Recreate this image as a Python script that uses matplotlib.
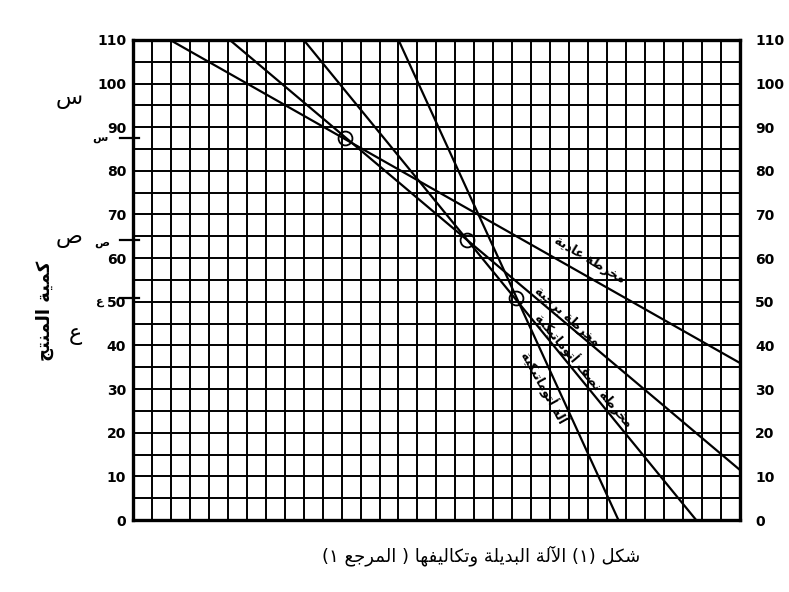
import numpy as np
import matplotlib.pyplot as plt

# machine cost lines (x = grid columns, y = quantity)
ordinary_x = [1.95, 32.0]
ordinary_y = [110, 36]
turret_x = [5.1, 32.0]
turret_y = [110, 11.5]
semi_x = [9.0, 29.7]
semi_y = [110, 0]
auto_x = [14.0, 25.6]
auto_y = [110, 0]

# break-even points (circles) and their marks on the axis
break_x = [11.2, 17.6, 20.2]
break_y = [87.5, 64.2, 50.8]

y_ticks = list(range(0, 111, 10))
n_cols = 32

# --- minimal arabic shaping (matplotlib has no complex text layout) ---
FORMS = {
    'ا': ('\uFE8D', '\uFE8E', None, None), 'آ': ('\uFE81', '\uFE82', None, None),
    'أ': ('\uFE83', '\uFE84', None, None), 'ب': ('\uFE8F', '\uFE90', '\uFE91', '\uFE92'),
    'ة': ('\uFE93', '\uFE94', None, None), 'ت': ('\uFE95', '\uFE96', '\uFE97', '\uFE98'),
    'ج': ('\uFE9D', '\uFE9E', '\uFE9F', '\uFEA0'), 'خ': ('\uFEA5', '\uFEA6', '\uFEA7', '\uFEA8'),
    'د': ('\uFEA9', '\uFEAA', None, None), 'ر': ('\uFEAD', '\uFEAE', None, None),
    'س': ('\uFEB1', '\uFEB2', '\uFEB3', '\uFEB4'), 'ش': ('\uFEB5', '\uFEB6', '\uFEB7', '\uFEB8'),
    'ص': ('\uFEB9', '\uFEBA', '\uFEBB', '\uFEBC'), 'ط': ('\uFEC1', '\uFEC2', '\uFEC3', '\uFEC4'),
    'ع': ('\uFEC9', '\uFECA', '\uFECB', '\uFECC'), 'ف': ('\uFED1', '\uFED2', '\uFED3', '\uFED4'),
    'ك': ('\uFED9', '\uFEDA', '\uFEDB', '\uFEDC'), 'ل': ('\uFEDD', '\uFEDE', '\uFEDF', '\uFEE0'),
    'م': ('\uFEE1', '\uFEE2', '\uFEE3', '\uFEE4'), 'ن': ('\uFEE5', '\uFEE6', '\uFEE7', '\uFEE8'),
    'ه': ('\uFEE9', '\uFEEA', '\uFEEB', '\uFEEC'), 'و': ('\uFEED', '\uFEEE', None, None),
    'ي': ('\uFEF1', '\uFEF2', '\uFEF3', '\uFEF4'),
}
LAMALEF = {'آ': ('\uFEF5', '\uFEF6'), 'أ': ('\uFEF7', '\uFEF8'), 'ا': ('\uFEFB', '\uFEFC')}


def ar(s):
    items = []
    i = 0
    while i < len(s):
        if s[i] == 'ل' and i + 1 < len(s) and s[i + 1] in LAMALEF:
            items.append(('LA', s[i + 1]))
            i += 2
        else:
            items.append(s[i])
            i += 1

    def dual(it):
        return isinstance(it, str) and it in FORMS and FORMS[it][2] is not None

    def letter(it):
        return isinstance(it, tuple) or it in FORMS

    out = []
    for k, it in enumerate(items):
        jp = k > 0 and dual(items[k - 1]) and letter(it)
        jn = k + 1 < len(items) and dual(it) and letter(items[k + 1])
        if isinstance(it, tuple):
            out.append(LAMALEF[it[1]][1 if jp else 0])
        elif it in FORMS:
            f = FORMS[it]
            if jp and jn:
                out.append(f[3])
            elif jp:
                out.append(f[1])
            elif jn:
                out.append(f[2])
            else:
                out.append(f[0])
        else:
            out.append(it)
    txt = ''.join(out[::-1])
    return txt.translate(str.maketrans('()', ')('))


plt.rcParams['font.family'] = ['DejaVu Sans']

fig = plt.figure(figsize=(7.89, 5.92), dpi=100)
ax = fig.add_axes([0.1686, 0.1216, 0.769, 0.811])
ax.set_xlim(0, n_cols)
ax.set_ylim(0, 110)

ax.set_xticks(range(n_cols + 1))
ax.set_xticklabels([])
ax.set_yticks(y_ticks)
ax.set_yticks(range(5, 110, 10), minor=True)
ax.grid(which='both', color='black', lw=1.4)
ax.tick_params(axis='both', which='both', length=0)
ax.tick_params(axis='y', pad=5, labelsize=10)
for lab in ax.get_yticklabels():
    lab.set_fontweight('bold')
for sp in ax.spines.values():
    sp.set_linewidth(2.4)

ax2 = ax.twinx()
ax2.set_ylim(0, 110)
ax2.set_yticks(y_ticks)
ax2.tick_params(axis='y', length=0, pad=11, labelsize=10)
for lab in ax2.get_yticklabels():
    lab.set_fontweight('bold')

ax.plot(ordinary_x, ordinary_y, color='black', lw=1.6)
ax.plot(turret_x, turret_y, color='black', lw=1.6)
ax.plot(semi_x, semi_y, color='black', lw=1.6)
ax.plot(auto_x, auto_y, color='black', lw=1.6)
ax.plot(break_x, break_y, 'o', ms=10, mfc='none', mec='black', mew=1.3)
for by in break_y:
    ax.plot([-0.7, 0.3], [by, by], color='black', lw=1.6, clip_on=False)

# line names along the lines
ax.text(24.1, 59.5, ar('مخرطة عادية'), rotation=-31, fontsize=9, fontweight='bold',
        ha='center', va='center')
ax.text(22.9, 46.5, ar('مخرطة برجية'), rotation=-42, fontsize=9, fontweight='bold',
        ha='center', va='center')
ax.text(23.8, 34.5, ar('مخرطة نصف أتوماتيكية'), rotation=-50, fontsize=9, fontweight='bold',
        ha='center', va='center')
ax.text(21.7, 30.5, ar('آلة أتوماتيكية'), rotation=-61, fontsize=9, fontweight='bold',
        ha='center', va='center')

# symbols on the left axis
ytr = ax.get_yaxis_transform()
ax.text(-0.105, 96.5, ar('س'), transform=ytr, fontsize=16, ha='center', va='center')
ax.text(-0.105, 64.5, ar('ص'), transform=ytr, fontsize=16, ha='center', va='center')
ax.text(-0.095, 42.5, ar('ع'), transform=ytr, fontsize=16, ha='center', va='center')
ax.text(-0.055, 87.5, ar('س'), transform=ytr, fontsize=8, fontweight='bold', ha='center', va='center')
ax.text(-0.052, 63.5, ar('ص'), transform=ytr, fontsize=8, fontweight='bold', ha='center', va='center')
ax.text(-0.055, 50.0, ar('ع'), transform=ytr, fontsize=8, fontweight='bold', ha='center', va='center')
ax.text(-0.145, 48, ar('كمية المنتج'), transform=ytr, fontsize=13, fontweight='bold',
        rotation=90, ha='center', va='center')

fig.text(0.61, 0.062, ar('شكل (١) الآلة البديلة وتكاليفها ( المرجع ١)'), fontsize=13,
         ha='center', va='center')

fig.savefig('out.png', dpi=100)
